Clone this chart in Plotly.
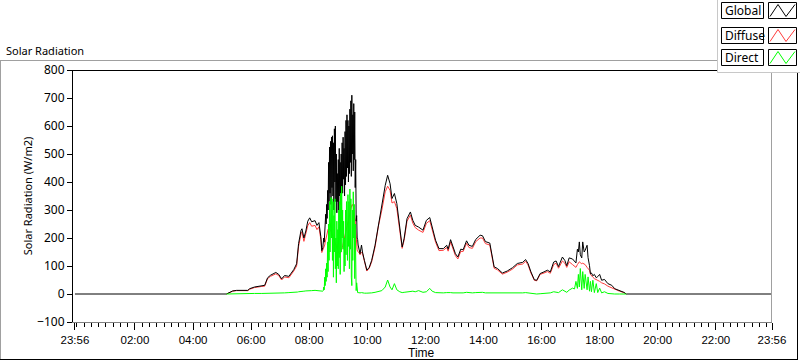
import plotly.graph_objects as go

# ---------------- data ----------------
start_time = "2024-01-01 23:56"
end_time = "2024-01-02 23:56"
day = "2024-01-02 "
night_value = 0

day_times = [
    "05:09", "05:22", "05:30", "05:53", "05:57", "06:07", "06:22", "06:28", "06:34", "06:40",
    "06:51", "06:57", "07:03", "07:09", "07:18", "07:24", "07:28", "07:34", "07:36", "07:38",
    "07:43", "07:45", "07:49", "07:53", "07:57", "08:01", "08:05", "08:12", "08:16", "08:20",
    "08:24", "08:26", "08:28",
    "08:29", "08:30", "08:31", "08:32", "08:33", "08:34", "08:35", "08:36", "08:37", "08:38",
    "08:39", "08:40", "08:41", "08:42", "08:43", "08:44", "08:45", "08:46", "08:47", "08:48",
    "08:49", "08:50", "08:51", "08:52", "08:53", "08:54", "08:55", "08:56", "08:57", "08:58",
    "08:59", "09:00", "09:01", "09:02", "09:03", "09:04", "09:05", "09:06", "09:07", "09:08",
    "09:09", "09:10", "09:11", "09:12", "09:13", "09:14", "09:15", "09:16", "09:17", "09:18",
    "09:19", "09:20", "09:21", "09:22", "09:23", "09:24", "09:25", "09:26", "09:27", "09:28",
    "09:29", "09:30", "09:31", "09:32", "09:33", "09:34", "09:35", "09:36", "09:37", "09:38",
    "09:39", "09:40", "09:41",
    "09:43", "09:45", "09:48", "09:50", "09:54", "09:59", "10:04", "10:09", "10:16", "10:23",
    "10:30", "10:37", "10:42", "10:47", "10:51", "10:56", "11:01", "11:07", "11:12", "11:16",
    "11:22", "11:29", "11:34", "11:39", "11:46", "11:55", "12:02", "12:09", "12:14", "12:21",
    "12:28", "12:37", "12:44", "12:47", "12:52", "12:57", "13:02", "13:07", "13:13", "13:18",
    "13:25", "13:30", "13:37", "13:44", "13:53", "13:58", "14:04", "14:13", "14:18", "14:22",
    "14:29", "14:39", "14:49", "15:00", "15:10", "15:21", "15:27", "15:32", "15:38", "15:45",
    "15:50", "15:57", "16:05", "16:12", "16:18", "16:25", "16:30", "16:35", "16:43", "16:48",
    "16:52", "16:57", "17:04", "17:08", "17:11", "17:14", "17:16", "17:18", "17:20", "17:23",
    "17:25", "17:28", "17:30", "17:34", "17:36", "17:39", "17:41", "17:43", "17:46", "17:49",
    "17:53", "17:56", "18:00", "18:04", "18:10", "18:17", "18:25", "18:31", "18:41", "18:50",
    "18:55",
]

global_vals = [
    0, 11, 13, 13, 19, 25, 29, 31, 58, 67,
    77, 70, 54, 66, 63, 75, 87, 108, 144, 180,
    227, 233, 200, 225, 260, 272, 258, 262, 245, 255,
    205, 155, 165,
    175, 200, 185, 240, 210, 285, 250, 320, 270, 370,
    300, 470, 330, 525, 360, 545, 320, 560, 380, 565,
    350, 540, 300, 590, 400, 600, 330, 500, 290, 430,
    330, 480, 300, 520, 350, 470, 320, 500, 380, 540,
    360, 560, 410, 520, 350, 580, 390, 620, 420, 640,
    450, 620, 400, 600, 430, 660, 470, 690, 420, 710,
    500, 640, 440, 680, 480, 650, 380, 480, 260, 280,
    200, 195, 175,
    160, 144, 175, 150, 120, 85, 95, 120, 174, 251,
    311, 388, 424, 394, 341, 359, 323, 239, 168, 198,
    269, 293, 263, 245, 239, 228, 263, 273, 239, 192,
    162, 162, 174, 160, 194, 165, 144, 132, 160, 158,
    190, 174, 170, 195, 210, 208, 187, 182, 138, 97,
    91, 75, 82, 94, 109, 113, 123, 109, 79, 51,
    49, 73, 79, 85, 79, 114, 118, 98, 132, 120,
    101, 129, 125, 118, 111, 160, 150, 186, 140, 129,
    186, 150, 156, 174, 130, 101, 72, 75, 65, 70,
    58, 62, 70, 49, 52, 37, 31, 19, 13, 6,
    0,
]

diffuse_vals = [
    0, 10, 12, 12, 17, 23, 27, 28, 55, 63,
    72, 66, 50, 61, 58, 70, 82, 100, 135, 170,
    215, 222, 188, 212, 244, 255, 242, 245, 230, 240,
    195, 148, 155,
    160, 165, 170, 175, 185, 195, 205, 215, 225, 230,
    232, 234, 233, 232, 230, 228, 225, 222, 218, 212,
    205, 200, 195, 190, 185, 180, 175, 170, 162, 155,
    150, 148, 146, 145, 145, 146, 148, 152, 158, 165,
    172, 180, 188, 195, 205, 215, 222, 230, 238, 245,
    252, 258, 265, 272, 280, 290, 298, 305, 312, 318,
    320, 318, 312, 305, 295, 282, 260, 230, 195, 170,
    158, 152, 150,
    148, 140, 150, 145, 116, 82, 92, 115, 168, 243,
    300, 365, 385, 370, 325, 330, 305, 232, 163, 192,
    260, 282, 253, 237, 228, 220, 252, 262, 230, 185,
    155, 156, 166, 153, 186, 158, 137, 125, 152, 152,
    181, 166, 163, 187, 200, 200, 180, 175, 132, 92,
    86, 71, 78, 89, 104, 107, 117, 104, 75, 49,
    47, 70, 75, 80, 74, 105, 110, 92, 118, 110,
    95, 115, 105, 100, 95, 105, 110, 115, 112, 108,
    110, 108, 105, 95, 92, 85, 70, 65, 60, 55,
    52, 48, 45, 40, 36, 28, 22, 16, 10, 5,
    0,
]

direct_vals = [
    0, 1, 1, 1, 2, 2, 2, 2, 3, 3,
    4, 3, 3, 4, 5, 5, 5, 6, 7, 8,
    10, 11, 10, 11, 12, 12, 12, 13, 12, 12,
    10, 9, 10,
    12, 25, 15, 60, 30, 90, 45, 110, 60, 186,
    80, 250, 120, 330, 150, 320, 345, 200, 340, 120,
    330, 60, 280, 150, 340, 90, 200, 40, 260, 100,
    230, 90, 300, 130, 330, 70, 360, 150, 385, 200,
    300, 160, 260, 80, 200, 100, 300, 140, 330, 245,
    120, 355, 170, 330, 90, 375, 160, 340, 60, 30,
    300, 120, 365, 200, 320, 55, 250, 80, 12, 40,
    8, 5, 5,
    4, 4, 5, 4, 3, 3, 3, 4, 6, 8,
    12, 25, 50, 25, 15, 37, 15, 8, 5, 6,
    8, 10, 10, 8, 12, 6, 8, 20, 10, 5,
    4, 4, 5, 4, 5, 4, 4, 3, 5, 4,
    6, 5, 4, 5, 7, 6, 4, 4, 3, 3,
    3, 2, 2, 3, 3, 4, 5, 4, 2, 0,
    0, 1, 2, 4, 4, 8, 7, 5, 15, 10,
    6, 14, 21, 18, 45, 20, 70, 25, 91, 15,
    80, 20, 70, 15, 61, 10, 45, 8, 49, 5,
    37, 5, 21, 4, 8, 2, 0, 0, 0, 0,
    0,
]

tick_labels = ["23:56", "02:00", "04:00", "06:00", "08:00", "10:00", "12:00",
               "14:00", "16:00", "18:00", "20:00", "22:00", "23:56"]
tick_times = [start_time] + [day + t for t in tick_labels[1:-1]] + [end_time]

legend_names = ["Global", "Diffuse", "Direct"]
series_colors = {"Global": "#000000", "Diffuse": "#ff3c3c", "Direct": "#00ff00"}

# ---------------- figure ----------------
W, H = 800, 361
L, R, T, B = 73, 28, 70, 39
PW, PH = W - L - R, H - T - B


def px(x):
    return (x - L) / PW


def py(y):
    return (H - B - y) / PH


x_day = [day + t for t in day_times]
FONT = "Noto Sans"
FONT2 = "Liberation Sans"
FS = 11

fig = go.Figure()
fig.add_trace(go.Scatter(x=x_day, y=diffuse_vals, mode="lines", name="Diffuse",
                         line=dict(color=series_colors["Diffuse"], width=1), showlegend=False))
fig.add_trace(go.Scatter(x=[start_time] + x_day + [end_time],
                         y=[night_value] + global_vals + [night_value], mode="lines", name="Global",
                         line=dict(color=series_colors["Global"], width=1), showlegend=False))
fig.add_trace(go.Scatter(x=x_day, y=direct_vals, mode="lines", name="Direct",
                         line=dict(color=series_colors["Direct"], width=1), showlegend=False))

shapes = []


def line(x0, y0, x1, y1, color, width=1):
    shapes.append(dict(type="line", xref="paper", yref="paper", x0=px(x0), y0=py(y0),
                       x1=px(x1), y1=py(y1), line=dict(color=color, width=width), layer="above"))


def rect(x0, y0, x1, y1, color, fill=None):
    shapes.append(dict(type="rect", xref="paper", yref="paper", x0=px(x0), y0=py(y0),
                       x1=px(x1), y1=py(y1), line=dict(color=color, width=1),
                       fillcolor=fill if fill else "rgba(0,0,0,0)", layer="above"))


# outer panel frame
line(0, 60.5, 717, 60.5, "#a0a0a0")
line(0.5, 60.5, 0.5, 360, "#a0a0a0")
line(0, 359.5, 798, 359.5, "#000000")
line(797.5, 72, 797.5, 360, "#000000")
# plot border (top & right)
line(73, 70.5, 772, 70.5, "#000000")
line(771.5, 70, 771.5, 322, "#a0a0a0")
# legend panel
rect(717.5, -2, 802, 72.5, "#c8c8c8", "#ffffff")
box_rows = [(2.5, 18.5), (27.5, 43.5), (49.5, 65.5)]
annotations = []
for name, (y0, y1) in zip(legend_names, box_rows):
    rect(721.5, y0, 763.5, y1, "#000000")
    rect(768.5, y0, 796.5, y1, "#000000")
    pts = [(770, y1 - 2), (778, y0 + 2), (786, y1 - 2), (795, y0 + 2)]
    path = "M " + " L ".join(f"{px(a)},{py(b)}" for a, b in pts)
    shapes.append(dict(type="path", xref="paper", yref="paper", path=path,
                       line=dict(color=series_colors[name], width=1), layer="above"))
    annotations.append(dict(text=name, xref="paper", yref="paper", x=px(723), y=py((y0 + y1) / 2),
                            xanchor="left", yanchor="middle", showarrow=False,
                            font=dict(family=FONT, size=FS + 1, color="#000000")))

annotations.append(dict(text="Solar Radiation", xref="paper", yref="paper", x=px(4), y=py(50),
                        xanchor="left", yanchor="middle", showarrow=False,
                        font=dict(family=FONT, size=FS, color="#000000")))
annotations.append(dict(text="Time", xref="paper", yref="paper", x=px(421), y=py(353),
                        xanchor="center", yanchor="middle", showarrow=False,
                        font=dict(family=FONT2, size=FS + 1, color="#000000")))

fig.update_layout(
    width=W, height=H,
    margin=dict(l=L, r=R, t=T, b=B, pad=0, autoexpand=False),
    paper_bgcolor="#ffffff", plot_bgcolor="#ffffff",
    font=dict(family=FONT, size=FS, color="#000000"),
    shapes=shapes, annotations=annotations,
    xaxis=dict(type="date", range=["2024-01-01 23:52", end_time], automargin=False,
               tickmode="array", tickvals=tick_times, ticktext=tick_labels,
               ticks="outside", ticklen=7, tickcolor="#000000", tickwidth=1,
               showgrid=False, zeroline=False,
               showline=True, linecolor="#808080", linewidth=1,
               minor=dict(ticks="outside", ticklen=4, tickcolor="#000000",
                          dtick=15 * 60 * 1000, tick0="2024-01-02 00:00", showgrid=False),
               tickfont=dict(family=FONT2, size=FS + 0.5)),
    yaxis=dict(range=[-100, 800], dtick=100, tick0=0, automargin=False,
               ticks="outside", ticklen=5, tickcolor="#000000",
               showgrid=False, zeroline=False,
               showline=True, linecolor="#000000", linewidth=1,
               title=dict(text="Solar Radiation (W/m2)", standoff=2, font=dict(size=FS)),
               tickfont=dict(size=FS + 1)),
)

fig.write_html("out.html", config={"displayModeBar": False, "staticPlot": True},
               post_script="document.body.style.margin='0px';document.body.style.overflow='hidden';")
